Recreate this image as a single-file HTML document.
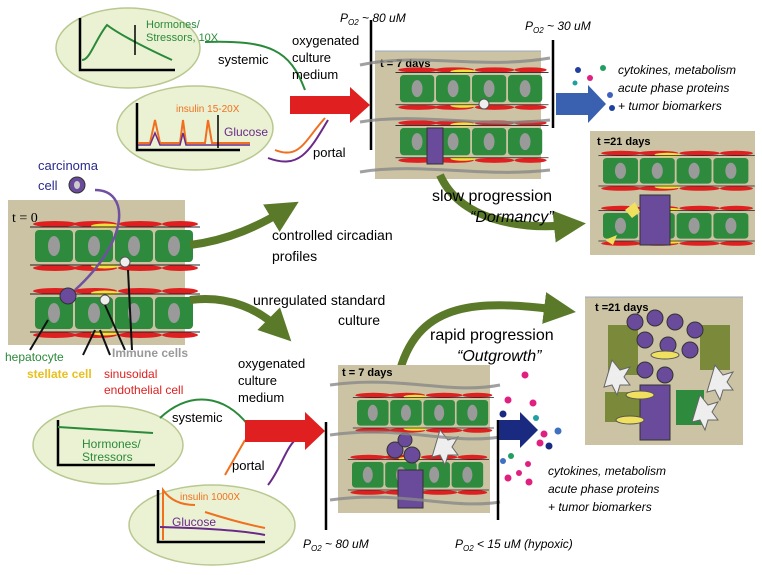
<!DOCTYPE html>
<html><head><meta charset="utf-8"><style>
body{margin:0;background:#fff;}
svg{display:block;font-family:"Liberation Sans",sans-serif;}
</style></head><body>
<svg width="762" height="575" viewBox="0 0 762 575" xmlns="http://www.w3.org/2000/svg">
<defs>
<g id="row">
  <rect x="0" y="0" width="38" height="32" rx="4" fill="#2e8b3e"/>
  <rect x="40" y="0" width="38" height="32" rx="4" fill="#2e8b3e"/>
  <rect x="80" y="0" width="38" height="32" rx="4" fill="#2e8b3e"/>
  <rect x="120" y="0" width="38" height="32" rx="4" fill="#2e8b3e"/>
  <ellipse cx="19" cy="16" rx="6" ry="10" fill="#9a9a9a"/>
  <ellipse cx="59" cy="16" rx="6" ry="10" fill="#9a9a9a"/>
  <ellipse cx="99" cy="16" rx="6" ry="10" fill="#9a9a9a"/>
  <ellipse cx="139" cy="16" rx="6" ry="10" fill="#9a9a9a"/>
  <g fill="#e02020">
  <ellipse cx="20" cy="-6" rx="22" ry="3"/><ellipse cx="60" cy="-6" rx="22" ry="3"/><ellipse cx="105" cy="-6" rx="22" ry="3"/><ellipse cx="145" cy="-6" rx="18" ry="3"/>
  <ellipse cx="20" cy="38" rx="22" ry="3"/><ellipse cx="60" cy="38" rx="22" ry="3"/><ellipse cx="105" cy="38" rx="22" ry="3"/><ellipse cx="145" cy="38" rx="18" ry="3"/>
  </g>
  <ellipse cx="70" cy="-4" rx="14" ry="2.5" fill="#f0e040"/>
  <ellipse cx="70" cy="36" rx="14" ry="2.5" fill="#f0e040"/>
  <line x1="-5" y1="-3" x2="165" y2="-3" stroke="#222" stroke-width="1"/>
  <line x1="-5" y1="35" x2="165" y2="35" stroke="#222" stroke-width="1"/>
</g>
<marker id="ga" markerWidth="4" markerHeight="4" refX="2" refY="2" orient="auto"><path d="M0,0 L4,2 L0,4z" fill="#5a7a2a"/></marker>
</defs>

<!-- top ellipses -->
<ellipse cx="128" cy="48" rx="72" ry="40" fill="#eaf2d3" stroke="#b8c890" stroke-width="1.5"/>
<path d="M80,18 V70 H175" stroke="#000" stroke-width="2.5" fill="none"/>
<path d="M82,60 C90,60 95,40 107,25 C120,35 150,50 172,60" stroke="#2a8a3a" stroke-width="2" fill="none"/>
<path d="M135,25 V55" stroke="#000" stroke-width="1.5"/>
<text x="146" y="28" font-size="11" fill="#2a8a3a">Hormones/</text>
<text x="146" y="41" font-size="11" fill="#2a8a3a">Stressors, 10X</text>

<ellipse cx="195" cy="128" rx="78" ry="42" fill="#eaf2d3" stroke="#b8c890" stroke-width="1.5"/>
<path d="M137,103 V150 H240" stroke="#000" stroke-width="2.5" fill="none"/>
<path d="M138,143 L150,143 L155,120 L160,143 L180,143 L183,120 L186,143 L205,143 L208,120 L212,143 L250,143" stroke="#f07020" stroke-width="2" fill="none"/>
<path d="M138,145 L150,145 L155,133 L160,145 L180,145 L183,133 L186,145 L250,145" stroke="#6a2a8a" stroke-width="1.5" fill="none"/>
<text x="176" y="112" font-size="10" fill="#f07020">insulin 15-20X</text>
<text x="224" y="136" font-size="12" fill="#6a2a8a">Glucose</text>
<line x1="218" y1="115" x2="218" y2="148" stroke="#000" stroke-width="1.5"/>

<path d="M205,42 C270,40 290,50 305,90" stroke="#2a8a3a" stroke-width="2" fill="none"/>
<path d="M275,150 C300,160 305,140 325,118" stroke="#f07020" stroke-width="2" fill="none"/>
<path d="M268,158 C300,170 310,150 328,120" stroke="#6a2a8a" stroke-width="2" fill="none"/>
<text x="218" y="64" font-size="13">systemic</text>
<text x="292" y="45" font-size="13">oxygenated</text>
<text x="292" y="62" font-size="13">culture</text>
<text x="292" y="79" font-size="13">medium</text>
<text x="313" y="157" font-size="13">portal</text>
<path d="M290,96 H350 V87 L370,105 L350,123 V114 H290z" fill="#e02020"/>
<line x1="371" y1="20" x2="371" y2="150" stroke="#000" stroke-width="2.5"/>
<text x="340" y="22" font-size="12" font-style="italic">P<tspan font-size="8" dy="3">O2</tspan><tspan dy="-3"> ~ 80 uM</tspan></text>
<text x="525" y="30" font-size="12" font-style="italic">P<tspan font-size="8" dy="3">O2</tspan><tspan dy="-3"> ~ 30 uM</tspan></text>

<!-- top t=7 panel -->
<rect x="375" y="51" width="166" height="128" fill="#cbc3a3"/>
<line x1="375" y1="51" x2="541" y2="51" stroke="#9ab" stroke-width="1"/>
<text x="380" y="67" font-size="11" font-weight="bold">t = 7 days</text>
<use href="#row" transform="translate(400,75) scale(0.9,0.85)"/>
<use href="#row" transform="translate(400,128) scale(0.9,0.85)"/>
<rect x="427" y="128" width="16" height="36" fill="#6a4a9a" stroke="#333"/>
<ellipse cx="484" cy="104" rx="5" ry="5" fill="#eee" stroke="#555"/>
<path d="M360,65 C420,52 480,70 550,58 M360,122 C420,112 480,128 550,120 M360,172 C420,162 480,178 550,170" stroke="#888" stroke-width="3" fill="none" opacity="0.8"/>
<line x1="553" y1="40" x2="553" y2="128" stroke="#000" stroke-width="2.5"/>
<path d="M556,93 H588 V85 L606,104 L588,123 V115 H556z" fill="#3a60b0"/>
<circle cx="578" cy="70" r="3" fill="#2040a0"/><circle cx="590" cy="78" r="3" fill="#e02080"/><circle cx="603" cy="68" r="3" fill="#20a060"/><circle cx="575" cy="83" r="2.5" fill="#20a0a0"/><circle cx="610" cy="95" r="3" fill="#4060c0"/><circle cx="612" cy="108" r="3" fill="#2040a0"/>
<text x="618" y="74" font-size="12" font-style="italic">cytokines, metabolism</text>
<text x="618" y="92" font-size="12" font-style="italic">acute phase proteins</text>
<text x="618" y="110" font-size="12" font-style="italic">+ tumor biomarkers</text>

<!-- top t=21 -->
<rect x="590" y="131" width="165" height="124" fill="#cbc3a3"/>
<text x="597" y="145" font-size="11" font-weight="bold">t =21 days</text>
<use href="#row" transform="translate(603,158) scale(0.92,0.8)"/>
<use href="#row" transform="translate(603,213) scale(0.92,0.8)"/>
<rect x="640" y="195" width="30" height="50" fill="#6a4a9a" stroke="#333"/>
<path d="M625,210 l10,-8 l5,10 l-8,6z M605,240 l12,-5 l-4,10z" fill="#f0e060"/>

<!-- t=0 panel -->
<text x="38" y="170" font-size="13" fill="#2a2a8a">carcinoma</text>
<text x="38" y="190" font-size="13" fill="#2a2a8a">cell</text>
<circle cx="77" cy="185" r="8" fill="#6a4a9a" stroke="#333"/><ellipse cx="77" cy="185" rx="3" ry="4" fill="#ccc"/>
<rect x="8" y="200" width="177" height="145" fill="#cbc3a3"/>
<text x="12" y="222" font-size="14" font-family="Liberation Serif">t = 0</text>
<use href="#row" transform="translate(35,230)"/>
<use href="#row" transform="translate(35,297)"/>
<circle cx="68" cy="296" r="8" fill="#6a4a9a" stroke="#333"/>
<circle cx="125" cy="262" r="5" fill="#eee" stroke="#555"/>
<circle cx="105" cy="300" r="5" fill="#eee" stroke="#555"/>
<path d="M95,190 C130,190 130,240 75,290" stroke="#7050a0" stroke-width="2.5" fill="none"/>
<g stroke="#111" stroke-width="2">
<line x1="48" y1="320" x2="30" y2="350"/><line x1="95" y1="330" x2="83" y2="355"/><line x1="100" y1="330" x2="110" y2="355"/><line x1="105" y1="305" x2="125" y2="350"/><line x1="128" y1="270" x2="132" y2="350"/>
</g>
<text x="5" y="361" font-size="12" fill="#2a8a3a">hepatocyte</text>
<text x="27" y="378" font-size="12" fill="#e8c020" font-weight="bold">stellate cell</text>
<text x="112" y="357" font-size="12" fill="#999" font-weight="bold">Immune cells</text>
<text x="104" y="378" font-size="12" fill="#e02020">sinusoidal</text>
<text x="104" y="394" font-size="12" fill="#e02020">endothelial cell</text>

<!-- green arrows -->
<path d="M190,245 C230,240 260,225 285,210" stroke="#5a7a2a" stroke-width="8" fill="none" marker-end="url(#ga)"/>
<text x="272" y="240" font-size="14">controlled circadian</text>
<text x="272" y="261" font-size="14">profiles</text>
<path d="M190,300 C230,295 260,310 280,330" stroke="#5a7a2a" stroke-width="8" fill="none" marker-end="url(#ga)"/>
<text x="253" y="305" font-size="14">unregulated standard</text>
<text x="338" y="325" font-size="14">culture</text>
<path d="M440,175 C460,220 520,230 570,225" stroke="#5a7a2a" stroke-width="8" fill="none" marker-end="url(#ga)"/>
<text x="432" y="201" font-size="16">slow progression</text>
<text x="470" y="222" font-size="16" font-style="italic">“Dormancy”</text>
<path d="M400,370 C420,300 480,300 560,310" stroke="#5a7a2a" stroke-width="8" fill="none" marker-end="url(#ga)"/>
<text x="430" y="340" font-size="16">rapid progression</text>
<text x="457" y="361" font-size="16" font-style="italic">“Outgrowth”</text>

<!-- bottom ellipses -->
<text x="238" y="368" font-size="13">oxygenated</text>
<text x="238" y="385" font-size="13">culture</text>
<text x="238" y="402" font-size="13">medium</text>
<ellipse cx="108" cy="445" rx="75" ry="39" fill="#eaf2d3" stroke="#b8c890" stroke-width="1.5"/>
<path d="M58,420 V465 H155" stroke="#000" stroke-width="2.5" fill="none"/>
<line x1="58" y1="427" x2="153" y2="433" stroke="#2a8a3a" stroke-width="2"/>
<text x="82" y="448" font-size="12" fill="#2a8a3a">Hormones/</text>
<text x="82" y="461" font-size="12" fill="#2a8a3a">Stressors</text>
<path d="M160,418 C190,390 225,395 248,425" stroke="#2a8a3a" stroke-width="2" fill="none"/>
<text x="172" y="422" font-size="13">systemic</text>
<ellipse cx="212" cy="525" rx="83" ry="40" fill="#eaf2d3" stroke="#b8c890" stroke-width="1.5"/>
<path d="M158,490 V542 H265" stroke="#000" stroke-width="2.5" fill="none"/>
<path d="M163,540 V490 C170,500 180,505 195,505 M205,512 C230,520 250,525 265,528" stroke="#f07020" stroke-width="2" fill="none"/>
<path d="M160,527 C200,528 240,530 265,535" stroke="#6a2a8a" stroke-width="2" fill="none"/>
<text x="180" y="500" font-size="10" fill="#f07020">insulin 1000X</text>
<text x="172" y="526" font-size="12" fill="#6a2a8a">Glucose</text>
<path d="M225,475 L245,440" stroke="#f07020" stroke-width="2"/>
<path d="M268,485 C280,470 285,450 295,440" stroke="#6a2a8a" stroke-width="2" fill="none"/>
<text x="232" y="470" font-size="13">portal</text>
<path d="M245,420 H305 V412 L325,431 L305,450 V442 H245z" fill="#e02020"/>
<line x1="326" y1="422" x2="326" y2="530" stroke="#000" stroke-width="2.5"/>
<text x="303" y="548" font-size="12" font-style="italic">P<tspan font-size="8" dy="3">O2</tspan><tspan dy="-3"> ~ 80 uM</tspan></text>

<!-- bottom t=7 -->
<rect x="338" y="365" width="152" height="148" fill="#cbc3a3"/>
<text x="342" y="376" font-size="11" font-weight="bold">t = 7 days</text>
<use href="#row" transform="translate(357,400) scale(0.83,0.8)"/>
<use href="#row" transform="translate(352,462) scale(0.83,0.8)"/>
<g fill="#6a4a9a" stroke="#333"><circle cx="395" cy="450" r="8"/><circle cx="412" cy="455" r="8"/><circle cx="405" cy="440" r="7"/><rect x="398" y="470" width="25" height="38"/></g>
<path d="M440,430 l8,10 l10,-3 l-6,10 l6,8 l-10,0 l-3,10 l-5,-10 l-8,2z" fill="#eee" stroke="#666"/>
<path d="M330,385 C400,375 450,395 500,385 M330,435 C400,425 450,445 500,437 M330,500 C400,490 450,510 500,502" stroke="#888" stroke-width="3" fill="none" opacity="0.8"/>
<line x1="498" y1="420" x2="498" y2="520" stroke="#000" stroke-width="2.5"/>
<path d="M499,420 H520 V412 L538,430 L520,448 V440 H499z" fill="#1a2a80"/>
<g><circle cx="525" cy="375" r="3.5" fill="#e02080"/><circle cx="508" cy="400" r="3.5" fill="#e02080"/><circle cx="533" cy="403" r="3.5" fill="#e02080"/><circle cx="503" cy="414" r="3.5" fill="#1a2a80"/><circle cx="536" cy="418" r="3" fill="#20a0a0"/><circle cx="544" cy="434" r="3.5" fill="#e02080"/><circle cx="558" cy="431" r="3.5" fill="#4070c0"/><circle cx="540" cy="443" r="3.5" fill="#e02080"/><circle cx="549" cy="446" r="3.5" fill="#1a2a80"/><circle cx="511" cy="456" r="3" fill="#20a060"/><circle cx="503" cy="461" r="3" fill="#4070c0"/><circle cx="528" cy="464" r="3" fill="#e02080"/><circle cx="519" cy="473" r="3" fill="#e02080"/><circle cx="508" cy="478" r="3.5" fill="#e02080"/><circle cx="529" cy="482" r="3.5" fill="#e02080"/></g>
<text x="548" y="475" font-size="12" font-style="italic">cytokines, metabolism</text>
<text x="548" y="493" font-size="12" font-style="italic">acute phase proteins</text>
<text x="548" y="511" font-size="12" font-style="italic">+ tumor biomarkers</text>
<text x="455" y="548" font-size="12" font-style="italic">P<tspan font-size="8" dy="3">O2</tspan><tspan dy="-3"> &lt; 15 uM (hypoxic)</tspan></text>

<!-- bottom t=21 -->
<rect x="585" y="297" width="158" height="148" fill="#cbc3a3"/>
<line x1="585" y1="297" x2="743" y2="297" stroke="#9ab"/>
<text x="595" y="311" font-size="11" font-weight="bold">t =21 days</text>
<rect x="608" y="325" width="30" height="50" fill="#7a8a3a"/><rect x="700" y="325" width="30" height="45" fill="#7a8a3a"/><rect x="605" y="392" width="40" height="30" fill="#7a8a3a"/>
<rect x="676" y="390" width="28" height="35" fill="#2e8b3e"/>
<g fill="#6a4a9a" stroke="#333">
<circle cx="635" cy="322" r="8"/><circle cx="655" cy="318" r="8"/><circle cx="675" cy="322" r="8"/><circle cx="695" cy="330" r="8"/><circle cx="645" cy="340" r="8"/><circle cx="668" cy="345" r="8"/><circle cx="690" cy="350" r="8"/><circle cx="645" cy="370" r="8"/><circle cx="665" cy="375" r="8"/>
<rect x="640" y="385" width="30" height="55"/></g>
<g fill="#f0e060" stroke="#555"><ellipse cx="665" cy="355" rx="14" ry="4"/><ellipse cx="640" cy="395" rx="14" ry="4"/><ellipse cx="630" cy="420" rx="14" ry="4"/></g>
<path d="M612,360 l8,10 l10,-3 l-6,10 l6,8 l-10,0 l-3,10 l-5,-10 l-8,2z M715,365 l8,10 l10,-3 l-6,10 l6,8 l-10,0 l-3,10 l-5,-10 l-8,2z M700,395 l8,10 l10,-3 l-6,10 l6,8 l-10,0 l-3,10 l-5,-10 l-8,2z" fill="#eee" stroke="#666"/>
</svg>
</body></html>
